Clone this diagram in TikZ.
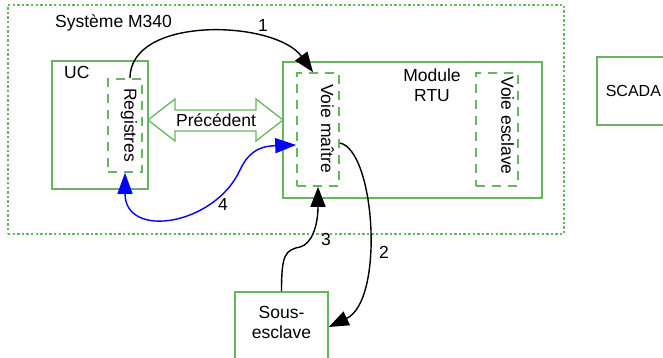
\documentclass[tikz,border=0pt]{standalone}
\usepackage{fontspec}
\setmainfont{Liberation Sans}
\usetikzlibrary{arrows.meta}
\definecolor{vert}{HTML}{66B55F}
\definecolor{bleu}{HTML}{0000FF}
\tikzset{
  boite/.style={draw=vert,line width=1.6pt,inner sep=0pt},
  boiteg/.style={draw=vert,line width=1.6pt,dash pattern=on 9pt off 7pt,inner sep=0pt},
  cadre/.style={draw=vert,line width=1.6pt,dash pattern=on 2.4pt off 2.2pt},
  fleche/.style={-{Triangle[length=20pt,width=15pt]},line width=1.4pt},
  flecheb/.style={{Triangle[length=21pt,width=15pt]}-{Triangle[length=21pt,width=15pt]},bleu,line width=1.4pt},
  lab/.style={font=\fontsize{17.5}{20.5}\selectfont,inner sep=0pt},
}

\begin{document}
\begin{tikzpicture}[x=1pt,y=-1pt]
  \useasboundingbox (0,0) rectangle (663,358);
  % systeme M340
  \node[cadre,minimum width=556pt,minimum height=229pt] (sys) at (286,119.5) {};
  \node[lab,anchor=base west] (systxt) at (55,28) {Système M340};
  % UC
  \node[boite,minimum width=96pt,minimum height=128pt] (uc) at (100,125) {};
  \node[lab,anchor=base west] (uctxt) at (64,79) {UC};
  \node[boiteg,minimum width=34pt,minimum height=93pt] (reg) at (125,125.5) {};
  \node[lab,rotate=-90] (regtxt) at (129,125) {Registres};
  % module RTU
  \node[boite,minimum width=259pt,minimum height=136pt] (rtu) at (412.5,130) {};
  \node[lab,align=center] (rtutxt) at (432,85) {Module\\RTU};
  \node[boiteg,minimum width=42pt,minimum height=113pt] (maitre) at (318,129.5) {};
  \node[lab,rotate=-90] (maitretxt) at (327.5,128.5) {Voie maître};
  \node[boiteg,minimum width=42pt,minimum height=113pt] (escl) at (497,129.5) {};
  \node[lab,rotate=-90] (escltxt) at (507.5,125.5) {Voie esclave};
  % SCADA, sous-esclave
  \node[boite,lab,font=\fontsize{16}{19}\selectfont,anchor=west,minimum height=68pt,inner xsep=9pt] (scada) at (596,91) {SCADA};
  \node[boite,lab,anchor=north,align=center,minimum width=93pt,inner ysep=14pt,text depth=30pt] (ss) at (281.5,291) {Sous-\\esclave};
  % precedent
  \draw[vert,line width=1.3pt,line join=miter] (148,120) -- (175,99) -- (175,110) -- (256,110) -- (256,99)
    -- (283,120) -- (256,141) -- (256,131) -- (175,131) -- (175,141) -- cycle;
  \node[lab] (prec) at (216,120) {Précédent};
  % echanges
  \draw[fleche] ([xshift=5pt]reg.north) .. controls (130,15) and (275,20) .. ([xshift=-5pt]maitre.north);
  \draw[fleche] ([yshift=-13.5pt]maitre.east) .. controls (375,150) and (385,300) .. ([yshift=-36pt]ss.north east);
  \draw[fleche] (ss.north) .. controls (281.5,255) and (285,250) .. (300,247)
    .. controls (312,244) and (318,225) .. (maitre.south);
  \draw[flecheb] (reg.south) .. controls (125,240) and (215,225) .. (240,170)
    .. controls (250,148) and (265,146) .. ([yshift=-15.5pt]maitre.west);
  \node[lab] (n1) at (263,25) {1};
  \node[lab] (n2) at (384,252) {2};
  \node[lab] (n3) at (326,239) {3};
  \node[lab] (n4) at (223,204) {4};
\end{tikzpicture}
\end{document}
